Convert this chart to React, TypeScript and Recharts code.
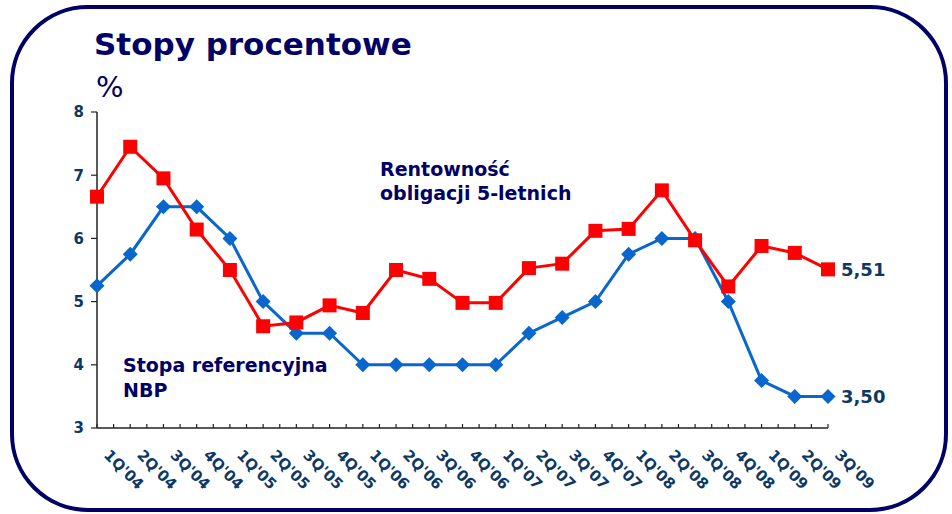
import { LineChart, Line, XAxis, YAxis, LabelList } from 'recharts'

const quarters = [
  "1Q'04", "2Q'04", "3Q'04", "4Q'04",
  "1Q'05", "2Q'05", "3Q'05", "4Q'05",
  "1Q'06", "2Q'06", "3Q'06", "4Q'06",
  "1Q'07", "2Q'07", "3Q'07", "4Q'07",
  "1Q'08", "2Q'08", "3Q'08", "4Q'08",
  "1Q'09", "2Q'09", "3Q'09",
]
// stopa referencyjna NBP
const nbpRate = [
  5.25, 5.75, 6.5, 6.5, 6.0, 5.0, 4.5, 4.5, 4.0, 4.0, 4.0, 4.0,
  4.0, 4.5, 4.75, 5.0, 5.75, 6.0, 6.0, 5.0, 3.75, 3.5, 3.5,
]
// rentownosc obligacji 5-letnich
const bondYield = [
  6.66, 7.45, 6.95, 6.14, 5.5, 4.61, 4.67, 4.94, 4.82, 5.5, 5.36, 4.98,
  4.98, 5.53, 5.6, 6.12, 6.15, 6.76, 5.97, 5.24, 5.88, 5.77, 5.51,
]
const yTicks = [3, 4, 5, 6, 7, 8]

const data = quarters.map((q, i) => ({ i, q, nbp: nbpRate[i], bond: bondYield[i] }))
const xTicks = Array.from({ length: quarters.length * 2 - 1 }, (_, k) => k / 2)
const last = quarters.length - 1

const FONT = '"DejaVu Sans", Verdana, sans-serif'
const NAVY = '#000066'
const LABEL = '#0d3866'
const RED = '#ff0000'
const BLUE = '#0866cc'

function QuarterTick(props: any) {
  const { x, y, payload } = props
  const v = payload.value
  const ax = x + 6
  const ay = y + 28
  return (
    <g>
      <line x1={x} x2={x} y1={y} y2={y - 4} stroke="#222" strokeWidth={1.2} />
      {Number.isInteger(v) && (
        <text
          x={ax}
          y={ay}
          transform={`rotate(45 ${ax} ${ay})`}
          fill={LABEL}
          fontSize={15}
          fontWeight={700}
          fontFamily={FONT}
        >
          {quarters[v]}
        </text>
      )}
    </g>
  )
}

function Square(props: any) {
  const { cx, cy, index } = props
  return <rect key={index} x={cx - 7} y={cy - 7} width={14} height={14} fill={RED} />
}

function Diamond(props: any) {
  const { cx, cy, index } = props
  const r = 7.5
  return (
    <polygon
      key={index}
      points={`${cx},${cy - r} ${cx + r},${cy} ${cx},${cy + r} ${cx - r},${cy}`}
      fill={BLUE}
    />
  )
}

function EndLabel(props: any) {
  const { x, y, index, value } = props
  if (index !== last) return null
  return (
    <text x={x + 13} y={y + 7} fill={LABEL} fontSize={18} fontWeight={700} fontFamily={FONT}>
      {Number(value).toFixed(2).replace('.', ',')}
    </text>
  )
}

export default function App() {
  return (
    <div style={{ position: 'absolute', left: 0, top: 0, width: 952, height: 514, background: '#fff', overflow: 'hidden' }}>
      <div
        style={{
          position: 'absolute',
          left: 10,
          top: 5,
          width: 938 - 8,
          height: 507 - 8,
          border: `4px solid ${NAVY}`,
          borderRadius: 78,
        }}
      />
      <LineChart
        width={952}
        height={514}
        data={data}
        margin={{ top: 112, right: 124, left: 57, bottom: 0 }}
        style={{ position: 'absolute', left: 0, top: 0 }}
      >
        <XAxis
          dataKey="i"
          type="number"
          domain={[0, last]}
          ticks={xTicks}
          interval={0}
          height={86}
          tickLine={false}
          tickSize={0}
          tickMargin={0}
          tick={<QuarterTick />}
          axisLine={{ stroke: '#222', strokeWidth: 1.5 }}
        />
        <YAxis
          type="number"
          domain={[3, 8]}
          ticks={yTicks}
          width={40}
          tickSize={6}
          tickMargin={7}
          tickLine={{ stroke: '#222', strokeWidth: 1.2 }}
          axisLine={{ stroke: '#222', strokeWidth: 1.5 }}
          tick={{ fill: LABEL, fontSize: 15, fontWeight: 700, fontFamily: FONT }}
        />
        <Line
          dataKey="nbp"
          stroke={BLUE}
          strokeWidth={3}
          dot={<Diamond />}
          activeDot={false}
          isAnimationActive={false}
        >
          <LabelList dataKey="nbp" content={<EndLabel />} />
        </Line>
        <Line
          dataKey="bond"
          stroke={RED}
          strokeWidth={3}
          dot={<Square />}
          activeDot={false}
          isAnimationActive={false}
        >
          <LabelList dataKey="bond" content={<EndLabel />} />
        </Line>
      </LineChart>
      <svg width={952} height={514} style={{ position: 'absolute', left: 0, top: 0, pointerEvents: 'none' }}>
        <text x={94} y={55} fill={NAVY} fontSize={31} fontWeight={700} fontFamily={FONT}>
          Stopy procentowe
        </text>
        <text x={96} y={97} fill={NAVY} fontSize={29} fontFamily={FONT}>
          %
        </text>
        <text x={380} y={176} fill={NAVY} fontSize={19} fontWeight={700} fontFamily={FONT}>
          Rentowność
        </text>
        <text x={380} y={200} fill={NAVY} fontSize={19} fontWeight={700} fontFamily={FONT}>
          obligacji 5-letnich
        </text>
        <text x={123} y={372} fill={NAVY} fontSize={19} fontWeight={700} fontFamily={FONT}>
          Stopa referencyjna
        </text>
        <text x={123} y={397} fill={NAVY} fontSize={19} fontWeight={700} fontFamily={FONT}>
          NBP
        </text>
      </svg>
    </div>
  )
}
